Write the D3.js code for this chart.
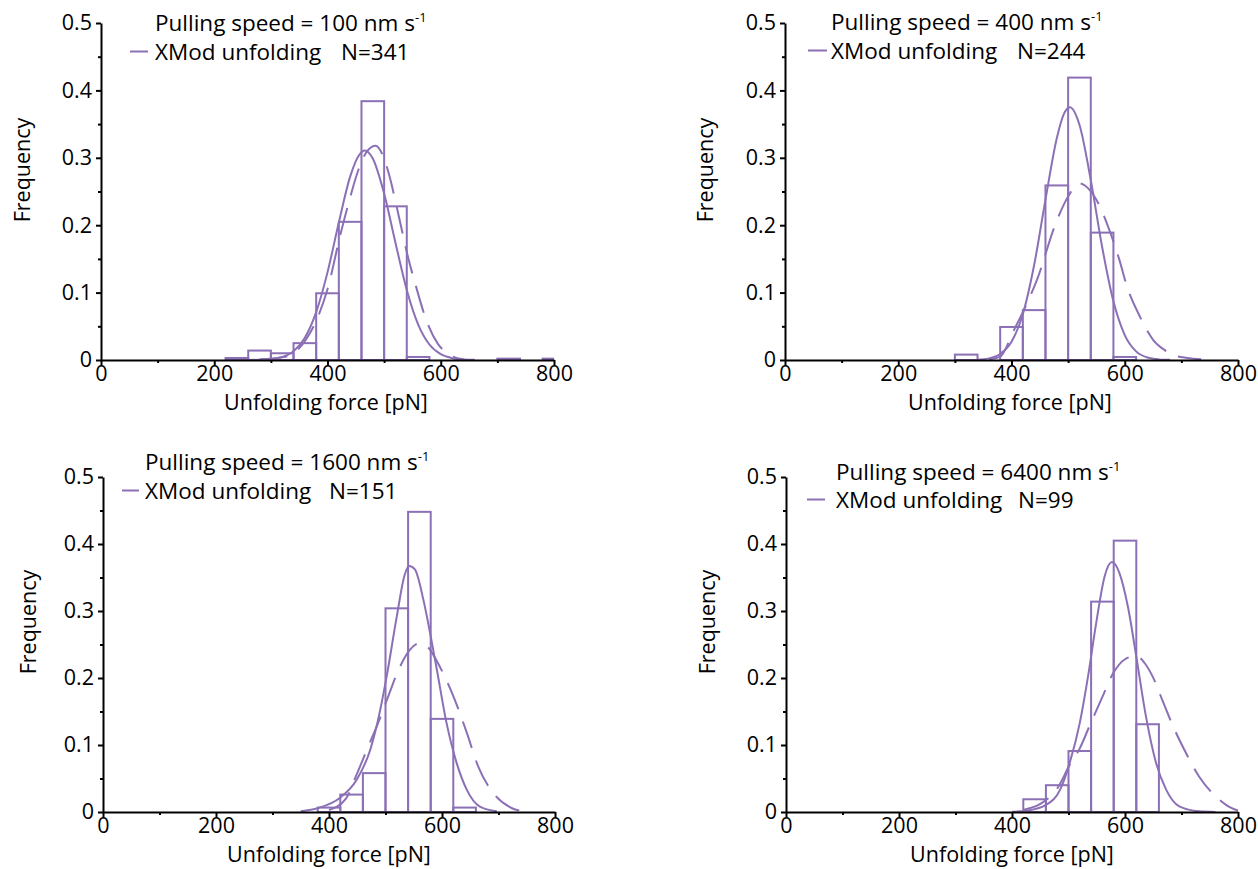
<!DOCTYPE html>
<html><head><meta charset="utf-8">
<script src="https://cdn.jsdelivr.net/npm/d3@7"></script>
<style>body{margin:0;background:#fff} svg{display:block}</style>
</head><body>
<svg id="c" width="1258" height="869"></svg>
<script>
// ---------------- data ----------------
const binWidth = 40;
const xTicks = [0, 200, 400, 600, 800];
const xMinorTicks = [100, 300, 500, 700];
const yTicks = [0, 0.1, 0.2, 0.3, 0.4, 0.5];
const yMinorTicks = [0.05, 0.15, 0.25, 0.35, 0.45];
const pullingSpeeds = [100, 400, 1600, 6400];
const sampleSizes = [341, 244, 151, 99];
const seriesName = "XMod unfolding";
const xTitle = "Unfolding force [pN]";
const yTitle = "Frequency";

// histogram bins (left edges) and frequencies
const bins100 = [220, 260, 300, 340, 380, 420, 460, 500, 540, 700, 780];
const freq100 = [0.003, 0.014, 0.010, 0.025, 0.099, 0.205, 0.384, 0.228, 0.0045, 0.002, 0.002];
const bins400 = [300, 380, 420, 460, 500, 540, 580];
const freq400 = [0.008, 0.049, 0.074, 0.259, 0.419, 0.189, 0.0045];
const bins1600 = [380, 420, 460, 500, 540, 580, 620];
const freq1600 = [0.0066, 0.026, 0.058, 0.304, 0.448, 0.139, 0.0066];
const bins6400 = [420, 460, 500, 540, 580, 620];
const freq6400 = [0.019, 0.040, 0.091, 0.314, 0.405, 0.131];

// solid fit curves [force, frequency]
const solid100 = [[260,0.0001],[280,0.0003],[300,0.0013],[320,0.0044],[340,0.013],[360,0.033],[380,0.071],[400,0.130],[420,0.204],[440,0.272],[455,0.303],[466,0.311],[480,0.299],[500,0.247],[520,0.174],[540,0.104],[560,0.053],[580,0.023],[600,0.0086],[620,0.0027],[640,0.0007],[660,0.0002]];
const solid400 = [[340,0.0005],[360,0.0024],[380,0.009],[400,0.027],[420,0.068],[440,0.141],[460,0.238],[480,0.329],[492,0.364],[503,0.375],[520,0.349],[540,0.267],[560,0.168],[580,0.087],[600,0.037],[620,0.0128],[640,0.0036],[660,0.0009],[680,0.0002]];
const solid1600 = [[350,0.001],[381,0.006],[419,0.021],[449,0.048],[473,0.093],[487,0.138],[502,0.202],[520,0.292],[534,0.354],[542,0.367],[552,0.362],[567,0.317],[579,0.267],[591,0.212],[608,0.133],[626,0.073],[644,0.033],[667,0.008],[697,0.001]];
const solid6400 = [[400,0.0005],[426,0.002],[461,0.011],[485,0.033],[502,0.073],[520,0.133],[534.5,0.202],[549,0.282],[564,0.352],[577,0.373],[590,0.357],[605,0.307],[620,0.232],[637,0.143],[655,0.073],[673,0.033],[696,0.0085],[731,0.001],[760,0.0001]];

// dashed model curves [force, frequency]
const dashed100 = [[280,0.001],[320,0.004],[340,0.010],[360,0.028],[384,0.066],[400,0.105],[423,0.187],[437,0.232],[455,0.283],[470,0.310],[485,0.318],[497,0.305],[510,0.271],[522,0.228],[543,0.150],[555,0.113],[575,0.058],[595,0.024],[615,0.008],[640,0.001]];
const dashed400 = [[360,0.001],[380,0.005],[403,0.042],[425,0.080],[445,0.119],[477,0.200],[495,0.235],[510,0.255],[521,0.262],[535,0.255],[556,0.228],[574,0.190],[590,0.150],[604,0.109],[627,0.064],[650,0.030],[670,0.015],[686,0.0074],[710,0.003],[735,0.001]];
const dashed1600 = [[400,0.003],[430,0.020],[449,0.056],[468,0.095],[487,0.133],[505,0.173],[523,0.212],[543,0.242],[561,0.252],[579,0.242],[591,0.225],[620,0.173],[644,0.118],[664,0.068],[691,0.028],[723,0.006],[745,0.001]];
const dashed6400 = [[420,0.003],[450,0.012],[480,0.035],[502,0.070],[520,0.095],[537,0.128],[558,0.168],[579,0.207],[600,0.228],[620,0.233],[635,0.222],[649,0.202],[667,0.165],[684,0.130],[708,0.088],[731,0.053],[761,0.023],[780,0.010],[800,0.002]];

const binsAll = [bins100, bins400, bins1600, bins6400];
const freqAll = [freq100, freq400, freq1600, freq6400];
const solidAll = [solid100, solid400, solid1600, solid6400];
const dashedAll = [dashed100, dashed400, dashed1600, dashed6400];

// ---------------- layout / style ----------------
const layout = [
  {x0:101, x1:554, y0:360, y1:23, legX:155, leg1:31, leg2:60, lineX:[130,148], nX:341, yT:[22,170], xT:[326,410]},
  {x0:785, x1:1238, y0:360, y1:23, legX:831, leg1:30, leg2:59, lineX:[808,827], nX:1017, yT:[705,170], xT:[1010,410]},
  {x0:103, x1:555, y0:812, y1:477, legX:145, leg1:470, leg2:499, lineX:[122,139], nX:329, yT:[28,622], xT:[329,862]},
  {x0:786, x1:1238, y0:812, y1:477, legX:836, leg1:480, leg2:508, lineX:[807,825], nX:1018, yT:[707,622], xT:[1012,862]}
];
const purple = "#8b70b6";
const FONT = "'Open Sans', sans-serif";
const tickFont = 21.5, legFont = 22.5, titleFont = 21.5;

const svg = d3.select("#c");

layout.forEach((L, i) => {
  const x = d3.scaleLinear().domain([0, 800]).range([L.x0, L.x1]);
  const y = d3.scaleLinear().domain([0, 0.5]).range([L.y0, L.y1]);
  const g = svg.append("g");

  const clipId = "clip" + i;
  g.append("clipPath").attr("id", clipId).append("rect")
    .attr("x", L.x0).attr("y", L.y1 - 2).attr("width", L.x1 - L.x0).attr("height", L.y0 - L.y1 + 2);

  const plot = g.append("g").attr("clip-path", `url(#${clipId})`);

  // bars
  plot.selectAll("rect.bar").data(binsAll[i].map((b, k) => ({b, f: freqAll[i][k]})))
    .join("rect").attr("class", "bar")
    .attr("x", d => x(d.b)).attr("width", d => x(d.b + binWidth) - x(d.b))
    .attr("y", d => y(d.f)).attr("height", d => y(0) - y(d.f))
    .attr("fill", "none").attr("stroke", purple).attr("stroke-width", 2);

  const line = d3.line().x(d => x(d[0])).y(d => y(d[1])).curve(d3.curveMonotoneX);
  plot.append("path").attr("d", line(dashedAll[i])).attr("fill", "none")
    .attr("stroke", purple).attr("stroke-width", 2).attr("stroke-dasharray", "28,13");
  plot.append("path").attr("d", line(solidAll[i])).attr("fill", "none")
    .attr("stroke", purple).attr("stroke-width", 2);

  // axes
  const xa = g.append("g").attr("transform", `translate(0,${L.y0})`)
    .call(d3.axisBottom(x).tickValues(xTicks).tickSize(5).tickSizeOuter(0).tickPadding(1).tickFormat(d3.format("d")));
  const xm = g.append("g").attr("transform", `translate(0,${L.y0})`)
    .call(d3.axisBottom(x).tickValues(xMinorTicks).tickSize(3).tickSizeOuter(0).tickFormat(""));
  const ya = g.append("g").attr("transform", `translate(${L.x0},0)`)
    .call(d3.axisLeft(y).tickValues(yTicks).tickSize(5).tickSizeOuter(0).tickPadding(4)
      .tickFormat(d => d === 0 ? "0" : d3.format(".1f")(d)));
  const ym = g.append("g").attr("transform", `translate(${L.x0},0)`)
    .call(d3.axisLeft(y).tickValues(yMinorTicks).tickSize(3).tickSizeOuter(0).tickFormat(""));
  [xa, xm, ya, ym].forEach(a => {
    a.attr("font-family", FONT).attr("font-size", tickFont);
    a.selectAll("path.domain").attr("stroke", "#000").attr("stroke-width", 2);
    a.selectAll("line").attr("stroke", "#000").attr("stroke-width", 2);
    a.selectAll("text").attr("fill", "#000");
  });
  xm.select("path.domain").remove();
  ym.select("path.domain").remove();

  // titles
  g.append("text").attr("x", L.xT[0]).attr("y", L.xT[1]).attr("text-anchor", "middle")
    .attr("font-family", FONT).attr("font-size", titleFont).text(xTitle);
  g.append("text").attr("transform", `translate(${L.yT[0]},${L.yT[1]}) rotate(-90)`)
    .attr("dy", "0.35em").attr("text-anchor", "middle")
    .attr("font-family", FONT).attr("font-size", titleFont).text(yTitle);

  // legend
  const t1 = g.append("text").attr("x", L.legX).attr("y", L.leg1)
    .attr("font-family", FONT).attr("font-size", legFont);
  t1.append("tspan").text(`Pulling speed = ${pullingSpeeds[i]} nm s`);
  t1.append("tspan").attr("dy", -9).attr("font-size", 13).text("-1");
  g.append("line").attr("x1", L.lineX[0]).attr("x2", L.lineX[1])
    .attr("y1", L.leg2 - 8.5).attr("y2", L.leg2 - 8.5)
    .attr("stroke", purple).attr("stroke-width", 2);
  g.append("text").attr("x", L.legX).attr("y", L.leg2)
    .attr("font-family", FONT).attr("font-size", legFont).text(seriesName);
  g.append("text").attr("x", L.nX).attr("y", L.leg2)
    .attr("font-family", FONT).attr("font-size", legFont).text(`N=${sampleSizes[i]}`);
});
</script>
</body></html>
